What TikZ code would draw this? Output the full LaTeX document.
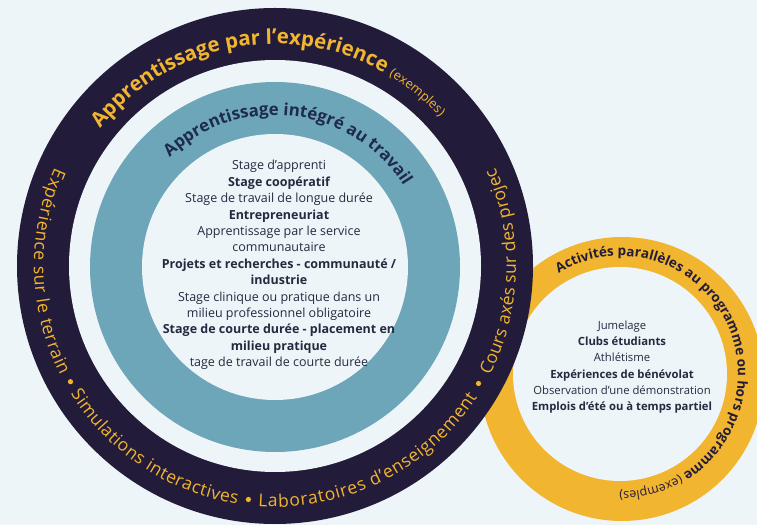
\documentclass[tikz,border=0pt]{standalone}
\usepackage{fontspec}
\setmainfont{Open Sans}
\usetikzlibrary{decorations.text}
\definecolor{bgc}{HTML}{EEF5F8}
\definecolor{darkring}{HTML}{231B3A}
\definecolor{gold}{HTML}{F1B52F}
\definecolor{tealring}{HTML}{6DA6B8}
\definecolor{navy}{HTML}{1E2B4B}
\definecolor{bodytext}{HTML}{242A40}
\tikzset{
  listtext/.style={align=center, text=bodytext, inner sep=0pt},
  ringword/.style={decorate, decoration={text along path, text align=fit to path, text color=gold,
    text={|\fontsize{17.5}{17.5}\selectfont|#1}}},
}
\begin{document}
\begin{tikzpicture}[x=1pt,y=1pt]
\fill[bgc] (0,0) rectangle (757,525);
\useasboundingbox (0,0) rectangle (757,525);
\coordinate (cbig) at (275,259);
\coordinate (cteal) at (275,258);
\coordinate (cyo) at (622,146);
\coordinate (cyi) at (620,151);
% yellow ring
\fill[gold] (cyo) circle (142);
\fill[bgc] (cyi) circle (107);
% dark ring
\fill[darkring] (cbig) circle (258);
\fill[bgc] (cbig) circle (206);
% teal ring
\fill[tealring] (cteal) circle (185);
\fill[bgc] (cteal) circle (133);
% outer ring, top
\path[decorate, decoration={text along path, text align=center, text color=gold,
  text={|\bfseries\fontsize{20.5}{20.5}\selectfont|Apprentissage par l’expérience |\mdseries\fontsize{13}{13}\selectfont|(exemples)}}]
  ([shift={(cbig)}]172:222) arc[start angle=172, end angle=12, radius=222];
% outer ring, lower part (counter-clockwise)
\path[ringword={Expérience sur le terrain}]
  ([shift={(cbig)}]156:241) arc[start angle=156, end angle=207, radius=241];
\path[ringword={Simulations interactives}]
  ([shift={(cbig)}]212:241) arc[start angle=212, end angle=261, radius=241];
\path[ringword={Laboratoires d’enseignement}]
  ([shift={(cbig)}]266:241) arc[start angle=266, end angle=327, radius=241];
\path[ringword={Cours axés sur des projec}]
  ([shift={(cbig)}]333:241) arc[start angle=333, end angle=384, radius=241];
\fill[gold] ([shift={(cbig)}]209.5:235) circle (2.6);
\fill[gold] ([shift={(cbig)}]263.5:235) circle (2.6);
\fill[gold] ([shift={(cbig)}]330:235) circle (2.6);
% teal ring
\path[decorate, decoration={text along path, text align=center, text color=navy,
  text={|\bfseries\fontsize{16.8}{16.8}\selectfont|Apprentissage intégré au travail}}]
  ([shift={(cteal)}]173:152) arc[start angle=173, end angle=-7, radius=152];
% yellow ring
\path[decorate, decoration={text along path, text align=center, text color=darkring,
  text={|\bfseries\fontsize{13.5}{13.5}\selectfont|Activités parallèles au programme ou hors programme |\mdseries\fontsize{12.5}{12.5}\selectfont|(exemples)}}]
  ([shift={(cyi)}]135.5:118) arc[start angle=135.5, end angle=-104.5, radius=118];
% lists
\node[listtext, font=\fontsize{12.5}{16.4}\selectfont] (wil) at (279,260) {%
Stage d’apprenti\\
{\bfseries Stage coopératif}\\
Stage de travail de longue durée\\
{\bfseries Entrepreneuriat}\\
Apprentissage par le service\\
communautaire\\
{\bfseries Projets et recherches - communauté /}\\
{\bfseries industrie}\\
Stage clinique ou pratique dans un\\
milieu professionnel obligatoire\\
{\bfseries Stage de courte durée - placement en}\\
{\bfseries milieu pratique}\\
tage de travail de courte durée};
\node[listtext, font=\fontsize{11.3}{16.2}\selectfont] (par) at (622,158) {%
Jumelage\\
{\bfseries Clubs étudiants}\\
Athlétisme\\
{\bfseries Expériences de bénévolat}\\
Observation d’une démonstration\\
{\bfseries Emplois d’été ou à temps partiel}};
\end{tikzpicture}
\end{document}
